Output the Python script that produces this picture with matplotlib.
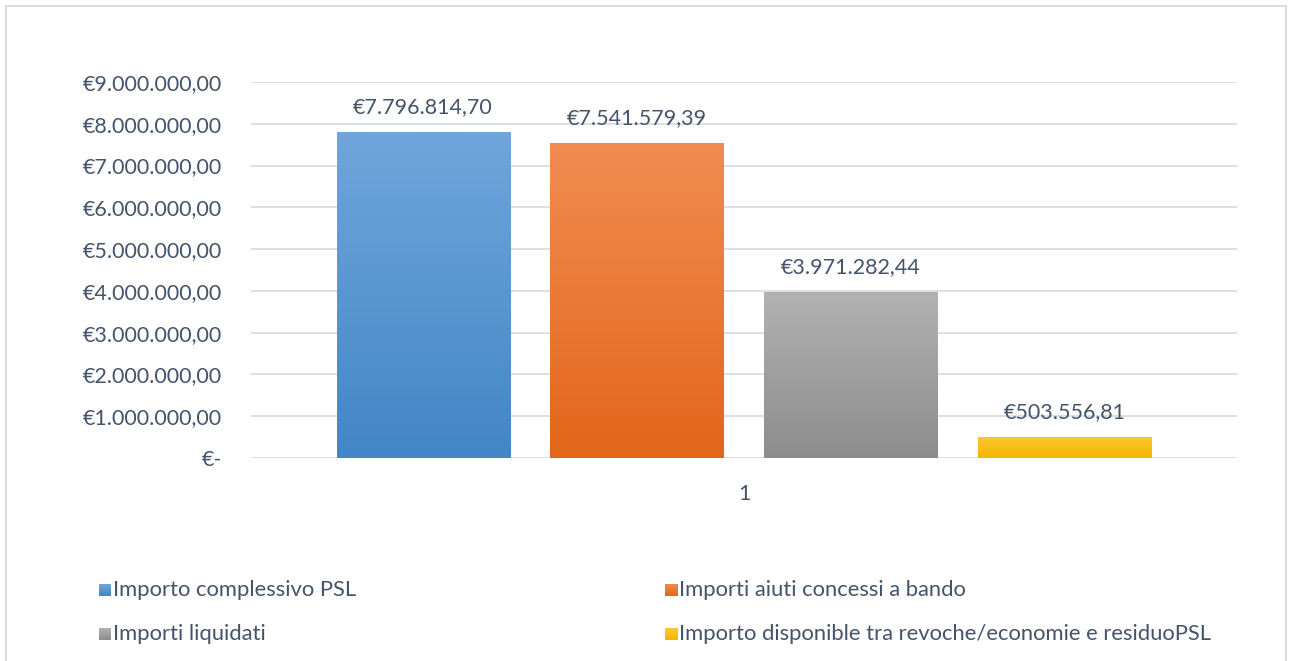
import numpy as np
import matplotlib.pyplot as plt
from matplotlib.patches import Rectangle
from matplotlib.colors import LinearSegmentedColormap

# Chart data
series = ['Importo complessivo PSL', 'Importi aiuti concessi a bando',
          'Importi liquidati', 'Importo disponible tra revoche/economie e residuoPSL']
values = [7796814.70, 7541579.39, 3971282.44, 503556.81]
category = '1'
yticks = [0, 1e6, 2e6, 3e6, 4e6, 5e6, 6e6, 7e6, 8e6, 9e6]

# gradient colours (top, bottom)
grads = [('#70A6DB', '#4286C7'), ('#F28C52', '#E2661A'),
         ('#B2B2B2', '#8C8C8C'), ('#FFC736', '#F2B700')]
text_col = '#44546A'
grid_col = '#D9DDE3'
fs = 15.5


def euro(v):
    if v == 0:
        return '€-'
    s = f'{v:,.2f}'
    s = s.replace(',', 'X').replace('.', ',').replace('X', '.')
    return '€' + s


def gradient_fill(target, extent, c_top, c_bot, clip=None):
    cmap = LinearSegmentedColormap.from_list('g', [c_bot, c_top])
    grad = np.linspace(0, 1, 256).reshape(-1, 1)
    im = target.imshow(grad, cmap=cmap, origin='lower', aspect='auto',
                       extent=extent, zorder=2)
    if clip is not None:
        im.set_clip_path(clip)
    return im


plt.rcParams['font.family'] = ['Lato', 'DejaVu Sans']

W, H = 1293, 661
fig = plt.figure(figsize=(W / 100, H / 100), dpi=100)

# outer chart frame
fig.patches.append(Rectangle((6 / W, -0.01), (1286 - 6) / W, 1 - 6 / H + 0.01,
                             transform=fig.transFigure, fill=False,
                             edgecolor='#D9DDE3', lw=1.5))

ax_l, ax_r = 251 / W, 1237 / W
ax_t, ax_b = 1 - 82 / H, 1 - 458 / H
ax = fig.add_axes([ax_l, ax_b, ax_r - ax_l, ax_t - ax_b])

step = 0.217
width = 0.1755
xs = (np.arange(len(values)) - 1.5) * step

for x, v, (c_top, c_bot) in zip(xs, values, grads):
    rect = Rectangle((x - width / 2, 0), width, v, facecolor='none', edgecolor='none')
    ax.add_patch(rect)
    gradient_fill(ax, (x - width / 2, x + width / 2, 0, v), c_top, c_bot, clip=rect)
    ax.annotate(euro(v), (x, v), xytext=(0, 11), textcoords='offset points',
                ha='center', va='bottom', fontsize=fs, color=text_col)

ax.set_xlim(-0.5, 0.5)
ax.set_ylim(0, 9e6)
ax.set_yticks(yticks)
ax.set_yticklabels([euro(t) for t in yticks], fontsize=fs, color=text_col)
ax.set_xticks([0])
ax.set_xticklabels([category], fontsize=fs, color=text_col)
ax.tick_params(axis='both', length=0)
ax.tick_params(axis='y', pad=21)
ax.tick_params(axis='x', pad=19)
ax.grid(axis='y', color=grid_col, lw=1.3, zorder=0)
ax.set_axisbelow(True)
for sp in ax.spines.values():
    sp.set_visible(False)

# legend, laid out row-wise in two columns
leg_x = [99, 665]
leg_y = [590, 634]
sq = 12
for i, (name, (c_top, c_bot)) in enumerate(zip(series, grads)):
    px = leg_x[i % 2]
    py = leg_y[i // 2]
    lax = fig.add_axes([px / W, 1 - (py + sq / 2) / H, sq / W, sq / H])
    gradient_fill(lax, (0, 1, 0, 1), c_top, c_bot)
    lax.set_axis_off()
    fig.text((px + sq + 2) / W, 1 - py / H, name, fontsize=15.8, color=text_col,
             ha='left', va='center')

fig.savefig('out.png', dpi=100)
